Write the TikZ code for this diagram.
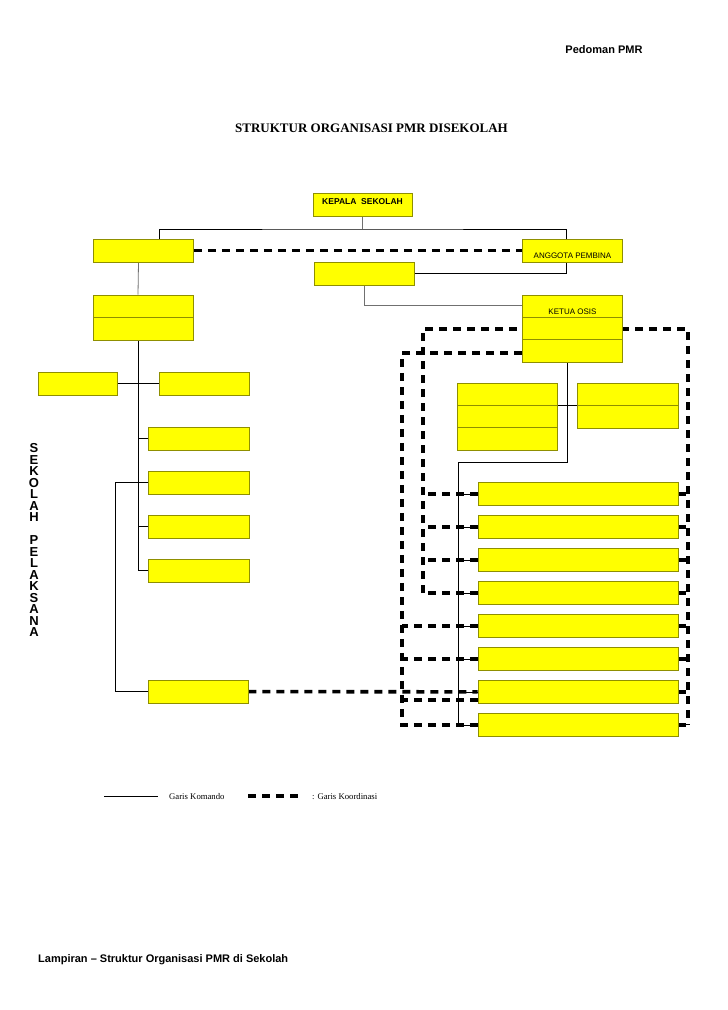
\documentclass[tikz,border=0pt]{standalone}
\usepackage{fontspec}
\setmainfont{Liberation Serif}
\setsansfont{Liberation Sans}
\usetikzlibrary{positioning,calc}
\definecolor{pmrfill}{HTML}{FFFF00}
\definecolor{pmrline}{HTML}{8F8F00}
\definecolor{pmrgray}{HTML}{707070}
\pgfdeclarelayer{background}
\pgfsetlayers{background,main}

\begin{document}
\begin{tikzpicture}[x = 1pt, y = -1pt, node distance = 33pt, on grid,
  box/.style = {draw = pmrline, fill = pmrfill, line width = 0.6pt, minimum width = 100pt, minimum height = 23pt, inner sep = 0pt, font = \sffamily\fontsize{8}{9}\selectfont},
  wide/.style = {box, minimum width = 200pt},
  two/.style = {box, minimum height = 45pt, path picture = {\draw[pmrline, line width = 0.6pt] (path picture bounding box.west) -- (path picture bounding box.east);}},
  three/.style = {box, minimum height = 67pt, path picture = {\draw[pmrline, line width = 0.6pt]
    ($(path picture bounding box.north west)!1/3!(path picture bounding box.south west)$) -- ($(path picture bounding box.north east)!1/3!(path picture bounding box.south east)$)
    ($(path picture bounding box.north west)!2/3!(path picture bounding box.south west)$) -- ($(path picture bounding box.north east)!2/3!(path picture bounding box.south east)$);}},
  kom/.style = {draw, line width = 0.8pt},
  komg/.style = {draw = pmrgray, line width = 0.8pt},
  koor/.style = {draw, line width = 3.6pt, dash pattern = on 8pt off 6pt}]
	\useasboundingbox (0,0) rectangle (728,1010);
	\node[font = \sffamily\bfseries\fontsize{11}{13}\selectfont] (hd) at (604,50) {Pedoman PMR};
	\node[font = \bfseries\fontsize{13}{15}\selectfont] (tt) at (371.5,128) {STRUKTUR ORGANISASI PMR DISEKOLAH};
	\node[font = \sffamily\bfseries\fontsize{11}{13}\selectfont, anchor = west, inner sep = 0pt] (ft) at (38,960) {Lampiran – Struktur Organisasi PMR di Sekolah};
	\node[font = \sffamily\bfseries\fontsize{13}{11.5}\selectfont, align = center] (vt) at (34,540) {S\\E\\K\\O\\L\\A\\H\\\mbox{}\\P\\E\\L\\A\\K\\S\\A\\N\\A};

	\node[box, minimum width = 99pt, font = \sffamily\bfseries\fontsize{8.5}{10}\selectfont, text depth = 6pt] (k0) at (362.5,204.5) {KEPALA\ \ SEKOLAH};
	\node[box] (p0) at (143.5,250.5) {};
	\node[box, text height = 16pt, text depth = 0pt] (p1) at (572.5,250.5) {ANGGOTA PEMBINA};
	\node[box] (w0) at (364,273.5) {};
	\node[two] (r0) at (143,317.5) {};
	\node[three, label = {[font = \sffamily\fontsize{8}{9}\selectfont, inner sep = 0pt, yshift = -20.5pt]north:KETUA OSIS}] (o0) at (572.5,328.5) {};

	\node[box, minimum width = 79pt] (r1) at (77.5,383.5) {};
	\node[box, minimum width = 90pt] (r2) at (204,383.5) {};
	\node[box, minimum width = 101pt] (s1) at (198.5,438.5) {};
	\node[box, minimum width = 101pt] (s2) [below = 44pt of s1] {};
	\node[box, minimum width = 101pt] (s3) [below = 44pt of s2] {};
	\node[box, minimum width = 101pt] (s4) [below = 44pt of s3] {};
	\node[box] (u0) at (198,691.5) {};

	\node[three] (t0) at (507,416.5) {};
	\node[two, minimum width = 101pt] (d0) at (627.5,405.5) {};
	\node[wide] (b1) at (578,494) {};
	\node[wide] (b2) [below = of b1] {};
	\node[wide] (b3) [below = of b2] {};
	\node[wide] (b4) [below = of b3] {};
	\node[wide] (b5) [below = of b4] {};
	\node[wide] (b6) [below = of b5] {};
	\node[wide] (b7) [below = of b6] {};
	\node[wide] (b8) [below = of b7] {};

	\node[font = \fontsize{8.7}{10}\selectfont, anchor = west, inner sep = 0pt] (lk) at (169,797) {Garis Komando};
	\node[font = \fontsize{8.7}{10}\selectfont, anchor = west, inner sep = 0pt] (lc) at (312,797) {: Garis Koordinasi};

	\coordinate (bus) at (362.5,229);
	\coordinate (tL) at ([xshift = -5pt]r0.south);
	\coordinate (tR) at (458,462);
	\coordinate (oL) at (423,329);
	\coordinate (oR) at (688,329);
	\coordinate (iL) at (402,353);

	\begin{pgfonlayer}{background}
	\path[komg] (k0) -- (bus);
	\path[kom] ([xshift = 15.5pt]p0.north) |- (bus) -| ([xshift = -6pt]p1.north);
	\path[kom] (w0) -| ([xshift = -6pt]p1.south);
	\path[komg] (w0) |- ([yshift = -11pt]o0.north west);
	\path[koor] (p0) -- (p1);

	\path[komg] ([xshift = -5pt]p0.south) -- ([xshift = -5pt]r0.north);
	\path[kom] (tL) |- (s4);
	\foreach \i in {1,2,3} \path[kom] (s\i) -- (s\i.west -| tL);
	\path[kom] (r1) -- (r2);
	\path[kom] (s2) -| ([xshift = -32pt]u0.west) -- (u0);

	\path[kom] ([xshift = -5.5pt]o0.south) |- (tR) |- (b8);
	\foreach \i in {1,...,7} \path[kom] (b\i) -- (b\i.west -| tR);
	\path[kom] (d0) -- (d0.west -| t0.east);

	\path[koor] (b4.west -| oL) -- (oL) -- (oR) -- (b8.east -| oR);
	\foreach \i in {1,...,4} \path[koor] (b\i) -- (b\i.west -| oL);
	\foreach \i in {1,...,8} \path[koor] (b\i) -- (b\i.east -| oR);
	\path[koor] (o0.west |- iL) -- (iL) |- (b8);
	\foreach \i in {5,6} \path[koor] (b\i) -- (b\i.west -| iL);
	\path[koor] ([yshift = -8pt]b7.west) -- ([yshift = -8pt]b7.west -| iL);
	\path[koor] (u0) -- (b7);
	\end{pgfonlayer}

	\path[kom] (104,796) -- (158,796);
	\path[koor] (248,796) -- (303,796);
\end{tikzpicture}
\end{document}
